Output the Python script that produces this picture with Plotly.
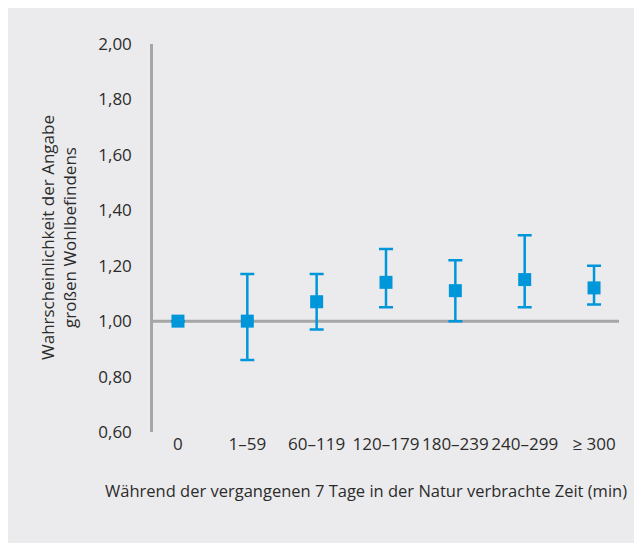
import plotly.graph_objects as go

categories = ["0", "1–59", "60–119", "120–179", "180–239", "240–299", "≥ 300"]
odds_ratio = [1.00, 1.00, 1.07, 1.14, 1.11, 1.15, 1.12]
ci_upper = [1.00, 1.17, 1.17, 1.26, 1.22, 1.31, 1.20]
ci_lower = [1.00, 0.86, 0.97, 1.05, 1.00, 1.05, 1.06]

BLUE = "#0096DA"
PANEL = "#EBEBED"
AXIS = "#A6A6A6"
TEXT = "#2b2b2b"
FONT = "Open Sans"

# page body has an 8px margin, so the figure starts at (8, 8) in the window
W, H = 642, 543
L, T = 145, 36
pw, ph = 466, 388
R, B = W - L - pw, H - T - ph

x = list(range(len(categories)))
fig = go.Figure()
fig.add_trace(
    go.Scatter(
        x=x,
        y=odds_ratio,
        mode="markers",
        marker=dict(symbol="square", size=13, color=BLUE),
        error_y=dict(
            type="data",
            symmetric=False,
            array=[u - m for u, m in zip(ci_upper, odds_ratio)],
            arrayminus=[m - l for m, l in zip(odds_ratio, ci_lower)],
            color=BLUE,
            thickness=2.5,
            width=7,
        ),
        showlegend=False,
    )
)

# reference line at 1.00
fig.add_shape(
    type="line", xref="paper", yref="y", layer="below",
    x0=0, x1=1, y0=1.0, y1=1.0,
    line=dict(color=AXIS, width=3),
)

fig.add_annotation(
    text="Während der vergangenen 7 Tage in der Natur verbrachte Zeit (min)",
    xref="paper", yref="paper", x=(358 - L) / pw, y=(T + ph - 483) / ph,
    showarrow=False, font=dict(size=16.5, color=TEXT, family=FONT),
    xanchor="center", yanchor="middle",
)
fig.add_annotation(
    text="Wahrscheinlichkeit der Angabe<br>großen Wohlbefindens",
    xref="paper", yref="paper", x=(50 - L) / pw, y=(T + ph - 230) / ph,
    textangle=-90, showarrow=False, font=dict(size=17, color=TEXT, family=FONT),
    xanchor="center", yanchor="middle",
)

fig.update_xaxes(
    range=[-0.36, 6.36],
    tickvals=x,
    ticktext=categories,
    showline=False,
    showgrid=False,
    zeroline=False,
    ticks="",
    tickfont=dict(size=17, color=TEXT, family=FONT),
)
fig.update_yaxes(
    range=[0.6, 2.0],
    dtick=0.2,
    tickformat=".2f",
    showline=True,
    linecolor=AXIS,
    linewidth=2.5,
    showgrid=False,
    zeroline=False,
    ticks="",
    ticklabelstandoff=15,
    tickfont=dict(size=17, color=TEXT, family=FONT),
)
fig.update_layout(
    width=W,
    height=H,
    margin=dict(l=L, r=R, t=T, b=B),
    paper_bgcolor=PANEL,
    plot_bgcolor=PANEL,
    separators=",.",
    font=dict(family=FONT, color=TEXT),
)

fig.write_html("out.html")
